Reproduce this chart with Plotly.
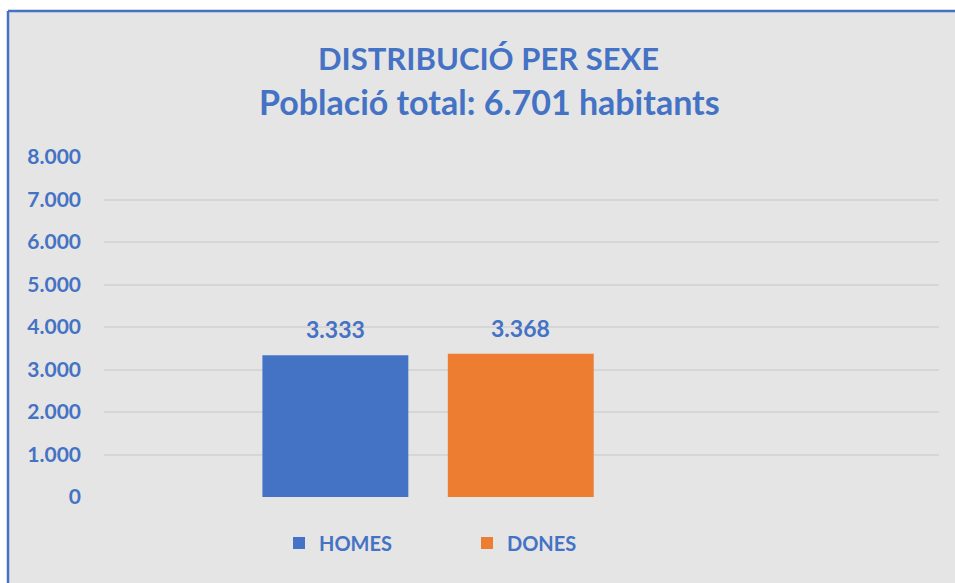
import plotly.graph_objects as go

# ---- data ----
categories = ["Total"]
series_names = ["HOMES", "DONES"]
homes_values = [3333]
dones_values = [3368]
title_line1 = "DISTRIBUCIÓ PER SEXE"
title_line2 = "Població total: 6.701 habitants"
y_tick_values = [0, 1000, 2000, 3000, 4000, 5000, 6000, 7000, 8000]

BLUE = "#4472C4"
ORANGE = "#ED7D31"
TXT = "#4472C4"
FONT = "Lato"

OFF = 0  # body margin removed via post_script
SW, SH = 955, 583
W, H = SW - OFF, SH - OFF
# target screen positions of plot area
SL, SR, ST, SB = 104, 939, 157, 497
L = SL - OFF
T = ST - OFF
R = W - (SR - OFF)
B = H - (SB - OFF)
pw = W - L - R
ph = H - T - B


def px_x(x):
    return (x - OFF - L) / pw


def px_y(y):
    return (H - B - (y - OFF)) / ph


def fmt(v):
    return f"{v:,}".replace(",", ".")


fig = go.Figure()
for name, vals, col in [(series_names[0], homes_values, BLUE),
                        (series_names[1], dones_values, ORANGE)]:
    fig.add_trace(go.Bar(
        x=categories, y=vals, name=name,
        marker=dict(color=col, line=dict(width=0)),
        hoverinfo="x+y+name",
    ))

# data labels
for vals, shift in [(homes_values, -92.75), (dones_values, 92.75)]:
    for c, v in zip(categories, vals):
        fig.add_annotation(x=c, y=v, xref="x", yref="y", text="<b>" + fmt(v) + "</b>",
                           showarrow=False, xshift=shift, yshift=26, yanchor="middle",
                           font=dict(family=FONT, size=23, color=TXT))

# chart area background and blue border (top and left visible)
fig.add_shape(type="rect", xref="paper", yref="paper", layer="below",
              x0=px_x(8), x1=px_x(SW + 5), y0=px_y(SH + 5), y1=px_y(11),
              fillcolor="#E5E5E5", line=dict(width=0))
fig.add_shape(type="line", xref="paper", yref="paper", layer="below",
              x0=px_x(8), x1=px_x(SW + 5), y0=px_y(11), y1=px_y(11),
              line=dict(color=BLUE, width=2.5))
fig.add_shape(type="line", xref="paper", yref="paper", layer="below",
              x0=px_x(8), x1=px_x(8), y0=px_y(SH + 5), y1=px_y(11),
              line=dict(color=BLUE, width=2.5))

fig.add_annotation(text="<b>" + title_line1 + "</b>", xref="paper", yref="paper",
                   x=px_x(488), y=px_y(58), showarrow=False,
                   font=dict(family=FONT, size=31, color=TXT), xanchor="center", yanchor="middle")
fig.add_annotation(text="<b>" + title_line2 + "</b>", xref="paper", yref="paper",
                   x=px_x(489), y=px_y(102), showarrow=False,
                   font=dict(family=FONT, size=34, color=TXT), xanchor="center", yanchor="middle")

fig.update_layout(
    width=W, height=H,
    margin=dict(l=L, r=R, t=T, b=B, autoexpand=False),
    paper_bgcolor="white", plot_bgcolor="rgba(0,0,0,0)",
    separators=",.",
    barmode="group", bargap=0.5, bargroupgap=0.213,
    showlegend=True,
    legend=dict(orientation="h", x=px_x(279), y=px_y(543), xanchor="left", yanchor="middle",
                font=dict(family=FONT, size=20, color=TXT, weight="bold"),
                bgcolor="rgba(0,0,0,0)",
                entrywidth=143, entrywidthmode="pixels", itemclick=False),
    font=dict(family=FONT, color=TXT),
)
fig.update_xaxes(type="category", range=[-0.437, 0.689], showticklabels=False,
                 showgrid=False, zeroline=False, showline=False, fixedrange=True)
fig.update_yaxes(range=[0, 8000], tickvals=y_tick_values, tickformat=",d",
                 showgrid=True, gridcolor="#D6D6D6", gridwidth=1.5, zeroline=False,
                 showline=False, ticklabelstandoff=22,
                 tickfont=dict(family=FONT, size=21, color=TXT, weight="bold"),
                 fixedrange=True)

fig.write_html("out.html",
               config={"displayModeBar": False},
               post_script="document.body.style.margin='0';document.body.style.overflow='hidden';")
